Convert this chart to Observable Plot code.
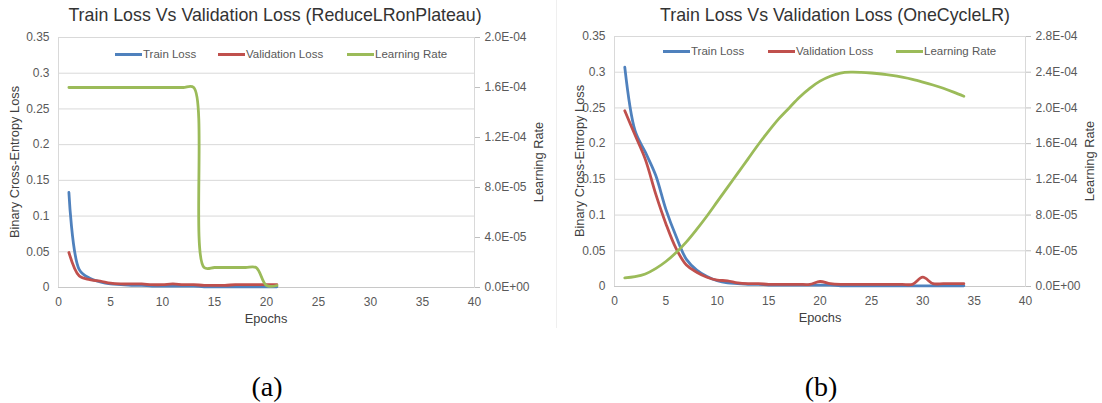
<!DOCTYPE html>
<html>
<head>
<meta charset="utf-8">
<script src="https://cdn.jsdelivr.net/npm/d3@7"></script>
<script src="https://cdn.jsdelivr.net/npm/@observablehq/plot@0.6"></script>
<style>
  html, body { margin: 0; padding: 0; background: #fff; }
  #page { position: relative; width: 1102px; height: 403px; overflow: hidden; background: #fff;
          font-family: "Liberation Sans", Arial, Helvetica, sans-serif; }
  .chart { position: absolute; top: 0; }
  .title { position: absolute; font-size: 17.8px; line-height: 1; color: #333; white-space: nowrap; transform: translateX(-50%); }
  .axt { position: absolute; font-size: 12.8px; line-height: 1; color: #404040; white-space: nowrap; }
  .rot { transform: translate(-50%, -50%) rotate(-90deg); }
  .hz { transform: translateX(-50%); }
  .leg { position: absolute; display: flex; align-items: center; height: 14px; font-size: 11.5px; color: #595959; white-space: nowrap; }
  .sw { width: 27px; height: 3px; margin-right: 1px; }
  .cap { position: absolute; font-family: "Liberation Serif", "Times New Roman", serif; font-size: 28px; line-height: 1; color: #000; transform: translateX(-50%); }
  .sep { position: absolute; left: 556px; top: 0; width: 0; height: 328px; border-left: 1px solid #efefef; }
</style>
</head>
<body>
<div id="page">
  <div class="sep"></div>
  <div id="chartA" class="chart" style="left:0px"></div>
  <div id="chartB" class="chart" style="left:556px"></div>

  <div class="title" style="left:275px; top:7px">Train Loss Vs Validation Loss (ReduceLRonPlateau)</div>
  <div class="title" style="left:835px; top:7px">Train Loss Vs Validation Loss (OneCycleLR)</div>

  <div class="axt hz" style="left:266px; top:313px">Epochs</div>
  <div class="axt hz" style="left:820px; top:312px">Epochs</div>
  <div class="axt rot" style="left:15px; top:162px">Binary Cross-Entropy Loss</div>
  <div class="axt rot" style="left:580px; top:161px">Binary Cross-Entropy Loss</div>
  <div class="axt rot" style="left:539px; top:162px">Learning Rate</div>
  <div class="axt rot" style="left:1090px; top:161px">Learning Rate</div>

  <div class="leg" style="left:115px; top:47px"><span class="sw" style="background:#4F81BD"></span>Train Loss</div>
  <div class="leg" style="left:218px; top:47px"><span class="sw" style="background:#C0504D"></span>Validation Loss</div>
  <div class="leg" style="left:347px; top:47px"><span class="sw" style="background:#9BBB59"></span>Learning Rate</div>

  <div class="leg" style="left:663px; top:44px"><span class="sw" style="background:#4F81BD"></span>Train Loss</div>
  <div class="leg" style="left:768px; top:44px"><span class="sw" style="background:#C0504D"></span>Validation Loss</div>
  <div class="leg" style="left:896px; top:44px"><span class="sw" style="background:#9BBB59"></span>Learning Rate</div>

  <div class="cap" style="left:267px; top:373px">(a)</div>
  <div class="cap" style="left:821px; top:373px">(b)</div>
</div>
<script>
// ---------- data ----------
const epochTicks = [0, 5, 10, 15, 20, 25, 30, 35, 40];
const lossTicks = [0, 0.05, 0.1, 0.15, 0.2, 0.25, 0.3, 0.35];
const lrTicksA = [0, 4e-5, 8e-5, 1.2e-4, 1.6e-4, 2.0e-4];
const lrTicksB = [0, 4e-5, 8e-5, 1.2e-4, 1.6e-4, 2.0e-4, 2.4e-4, 2.8e-4];

// (a) ReduceLRonPlateau
const epochsA = [1, 2, 3, 4, 5, 6, 7, 8, 9, 10, 11, 12, 13, 14, 15, 16, 17, 18, 19, 20, 21];
const trainA = [0.133, 0.025, 0.013, 0.008, 0.005, 0.004, 0.003, 0.003, 0.002, 0.002, 0.002,
                0.002, 0.002, 0.001, 0.001, 0.001, 0.001, 0.001, 0.001, 0.001, 0.001];
const valA = [0.049, 0.016, 0.011, 0.009, 0.006, 0.005, 0.005, 0.005, 0.004, 0.004, 0.005,
              0.004, 0.004, 0.003, 0.003, 0.003, 0.004, 0.004, 0.004, 0.004, 0.004];
const lrA = [1.6e-4, 1.6e-4, 1.6e-4, 1.6e-4, 1.6e-4, 1.6e-4, 1.6e-4, 1.6e-4, 1.6e-4, 1.6e-4, 1.6e-4,
             1.6e-4, 1.6e-4, 1.6e-5, 1.6e-5, 1.6e-5, 1.6e-5, 1.6e-5, 1.6e-5, 1.6e-6, 1.6e-6];

// (b) OneCycleLR
const epochsB = [1, 2, 3, 4, 5, 6, 7, 8, 9, 10, 11, 12, 13, 14, 15, 16, 17,
                 18, 19, 20, 21, 22, 23, 24, 25, 26, 27, 28, 29, 30, 31, 32, 33, 34];
const trainB = [0.307, 0.218, 0.188, 0.156, 0.108, 0.070, 0.038, 0.023, 0.014, 0.008, 0.005, 0.004,
                0.003, 0.003, 0.002, 0.002, 0.002, 0.002, 0.002, 0.002, 0.002, 0.001, 0.001, 0.001,
                0.001, 0.001, 0.001, 0.001, 0.001, 0.001, 0.001, 0.001, 0.001, 0.001];
const valB = [0.246, 0.212, 0.178, 0.130, 0.088, 0.053, 0.030, 0.020, 0.013, 0.009, 0.008, 0.005,
              0.004, 0.004, 0.003, 0.003, 0.003, 0.003, 0.003, 0.007, 0.004, 0.003, 0.003, 0.003,
              0.003, 0.003, 0.003, 0.003, 0.003, 0.013, 0.004, 0.004, 0.004, 0.004];
const lrB = [0.96e-5, 1.1e-5, 1.4e-5, 2.0e-5, 2.8e-5, 3.8e-5, 5.0e-5, 6.4e-5, 7.9e-5, 9.5e-5,
             1.11e-4, 1.27e-4, 1.43e-4, 1.59e-4, 1.74e-4, 1.88e-4, 2.0e-4, 2.12e-4, 2.22e-4, 2.30e-4,
             2.355e-4, 2.39e-4, 2.40e-4, 2.398e-4, 2.391e-4, 2.38e-4, 2.364e-4, 2.344e-4, 2.32e-4, 2.29e-4,
             2.257e-4, 2.22e-4, 2.177e-4, 2.13e-4];

const colors = { train: "#4F81BD", val: "#C0504D", lr: "#9BBB59" };

// ---------- helpers ----------
function lrFormat(v) {
  if (Math.abs(v) < 1e-12) return "0.0E+00";
  const [m, e] = v.toExponential(1).split("e");
  const n = parseInt(e, 10);
  return m + "E" + (n < 0 ? "-" : "+") + String(Math.abs(n)).padStart(2, "0");
}

function chart({ epochs, train, val, lr, lrTicks, width, mL, mR, mT, mB }) {
  const lossMax = lossTicks[lossTicks.length - 1];
  const lrMax = lrTicks[lrTicks.length - 1];
  const k = lossMax / lrMax;
  const rows = (vals, f = 1) => epochs.map((e, i) => ({ epoch: e, value: vals[i] * f }));
  const lineOpts = (c) => ({ x: "epoch", y: "value", stroke: c, strokeWidth: 2.8, curve: "catmull-rom" });
  return Plot.plot({
    width, height: 340,
    marginLeft: mL, marginRight: mR, marginTop: mT, marginBottom: mB,
    style: { fontFamily: '"Liberation Sans", Arial, sans-serif', fontSize: "12px", color: "#595959", background: "transparent", overflow: "visible" },
    x: { domain: [0, 40] },
    y: { domain: [0, lossMax] },
    marks: [
      Plot.ruleY(lossTicks, { stroke: "#d9d9d9" }),
      Plot.frame({ stroke: "#d9d9d9" }),
      Plot.ruleY([0], { stroke: "#c8c8c8" }),
      Plot.axisX(epochTicks, { tickSize: 0, tickPadding: 10, label: null, fill: "#595959" }),
      Plot.axisY(lossTicks, { anchor: "left", tickSize: 0, tickPadding: 9, label: null, fill: "#595959",
                              tickFormat: d => String(+d.toFixed(2)) }),
      Plot.axisY(lrTicks.map(v => v * k), { anchor: "right", tickSize: 5, tickPadding: 5, label: null,
                              stroke: "#bfbfbf", fill: "#595959", tickFormat: d => lrFormat(d / k) }),
      Plot.line(rows(train), lineOpts(colors.train)),
      Plot.line(rows(val), lineOpts(colors.val)),
      Plot.line(rows(lr, k), lineOpts(colors.lr))
    ]
  });
}

document.getElementById("chartA").append(chart({
  epochs: epochsA, train: trainA, val: valA, lr: lrA, lrTicks: lrTicksA,
  width: 556, mL: 58, mR: 82, mT: 37, mB: 53
}));
document.getElementById("chartB").append(chart({
  epochs: epochsB, train: trainB, val: valB, lr: lrB, lrTicks: lrTicksB,
  width: 546, mL: 58, mR: 77, mT: 36, mB: 54
}));
</script>
</body>
</html>
